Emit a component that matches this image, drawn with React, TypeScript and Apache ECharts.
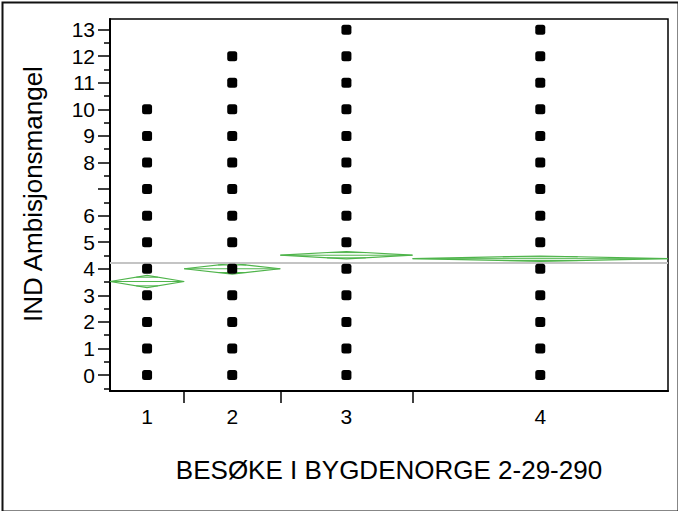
import React, { useEffect, useRef } from "react";
import * as echarts from "echarts";

// Group labels and relative group sizes (widths on the x axis)
const groupLabels = ["1", "2", "3", "4"];
const groupSizes = [74, 96, 132, 255];
// Observed response values per group (points drawn)
const groupValues: number[][] = [
  [0, 1, 2, 3, 4, 5, 6, 7, 8, 9, 10],
  [0, 1, 2, 3, 4, 5, 6, 7, 8, 9, 10, 11, 12],
  [0, 1, 2, 3, 4, 5, 6, 7, 8, 9, 10, 11, 12, 13],
  [0, 1, 2, 3, 4, 5, 6, 7, 8, 9, 10, 11, 12, 13],
];
// Group means and 95% CI half-widths (means diamonds)
const groupMeans = [3.52, 4.0, 4.51, 4.38];
const groupCIHalf = [0.23, 0.2, 0.14, 0.1];
const grandMean = 4.23;
// Y tick labels (7 is not labelled in the reference)
const yMajorTicks = [0, 1, 2, 3, 4, 5, 6, 7, 8, 9, 10, 11, 12, 13];
const yLabelTicks = [0, 1, 2, 3, 4, 5, 6, 8, 9, 10, 11, 12, 13];
const yMinorTicks = [-0.5, 0.5, 1.5, 2.5, 3.5, 4.5, 5.5, 6.5, 7.5, 8.5, 9.5, 10.5, 11.5, 12.5];

const yTitle = "IND Ambisjonsmangel";
const xTitle = "BESØKE I BYGDENORGE 2-29-290";

const FONT = "'Liberation Sans', Arial, sans-serif";
const GREEN = "#4fb44b";

export default function App() {
  const ref = useRef<HTMLDivElement>(null);

  useEffect(() => {
    if (!ref.current) return;
    const chart = echarts.init(ref.current, null, { renderer: "svg" });

    const starts: number[] = [];
    const centers: number[] = [];
    let acc = 0;
    groupSizes.forEach((s) => {
      starts.push(acc);
      centers.push(acc + s / 2);
      acc += s;
    });
    const total = acc;
    const boundaries = starts.slice(1);

    const points: number[][] = [];
    groupValues.forEach((vals, i) => {
      vals.forEach((v) => points.push([centers[i], v]));
    });

    const diamonds = groupMeans.map((m, i) => [
      starts[i],
      starts[i] + groupSizes[i],
      m,
      groupCIHalf[i],
    ]);

    const option: any = {
      animation: false,
      backgroundColor: "#ffffff",
      grid: {
        left: 110,
        top: 19,
        right: 10,
        bottom: 120,
        show: true,
        borderColor: "#000",
        borderWidth: 1.5,
        backgroundColor: "transparent",
      },
      xAxis: {
        type: "value",
        min: 0,
        max: total,
        splitLine: { show: false },
        axisLine: { show: true, onZero: false, lineStyle: { color: "#000", width: 2 } },
        axisTick: {
          show: true,
          customValues: boundaries,
          length: 12,
          inside: false,
          lineStyle: { color: "#000", width: 1.5 },
        },
        axisLabel: {
          show: true,
          customValues: centers,
          margin: 15,
          color: "#000",
          fontSize: 21,
          fontFamily: FONT,
          formatter: (v: number) => {
            const idx = centers.findIndex((c) => Math.abs(c - v) < 1e-6);
            return idx >= 0 ? groupLabels[idx] : "";
          },
        },
      },
      yAxis: [
        {
          type: "value",
          min: -0.6,
          max: 13.4,
          splitLine: { show: false },
          axisLine: { show: true, lineStyle: { color: "#000", width: 2 } },
          axisTick: {
            show: true,
            customValues: yMajorTicks,
            length: 12,
            lineStyle: { color: "#000", width: 1.5 },
          },
          axisLabel: {
            show: true,
            customValues: yLabelTicks,
            margin: 15,
            color: "#000",
            fontSize: 21,
            fontFamily: FONT,
          },
        },
        {
          type: "value",
          min: -0.6,
          max: 13.4,
          position: "left",
          splitLine: { show: false },
          axisLine: { show: false },
          axisTick: {
            show: true,
            customValues: yMinorTicks,
            length: 6,
            lineStyle: { color: "#000", width: 1.5 },
          },
          axisLabel: { show: false },
        },
      ],
      series: [
        {
          type: "scatter",
          yAxisIndex: 0,
          data: points,
          symbol: "roundRect",
          symbolSize: 10,
          itemStyle: { color: "#000", opacity: 1 },
          z: 5,
          markLine: {
            silent: true,
            symbol: "none",
            label: { show: false },
            lineStyle: { color: "#c4c4c4", width: 1.8, type: "solid" },
            data: [{ yAxis: grandMean }],
          },
        },
        {
          type: "custom",
          yAxisIndex: 0,
          data: diamonds,
          z: 4,
          renderItem: (_params: any, api: any) => {
            const x0 = api.value(0);
            const x1 = api.value(1);
            const m = api.value(2);
            const h = api.value(3);
            const xm = (x0 + x1) / 2;
            const pL = api.coord([x0, m]);
            const pR = api.coord([x1, m]);
            const pT = api.coord([xm, m + h]);
            const pB = api.coord([xm, m - h]);
            const dy = h / Math.SQRT2;
            const frac = 1 - 1 / Math.SQRT2;
            const hw = ((x1 - x0) / 2) * frac;
            const oU0 = api.coord([xm - hw, m + dy]);
            const oU1 = api.coord([xm + hw, m + dy]);
            const oD0 = api.coord([xm - hw, m - dy]);
            const oD1 = api.coord([xm + hw, m - dy]);
            const style = { stroke: GREEN, lineWidth: 1, fill: null };
            return {
              type: "group",
              children: [
                {
                  type: "polygon",
                  shape: { points: [pL, pT, pR, pB] },
                  style: { stroke: GREEN, lineWidth: 1.2, fill: "none" },
                },
                { type: "line", shape: { x1: pL[0], y1: pL[1], x2: pR[0], y2: pR[1] }, style },
                { type: "line", shape: { x1: oU0[0], y1: oU0[1], x2: oU1[0], y2: oU1[1] }, style },
                { type: "line", shape: { x1: oD0[0], y1: oD0[1], x2: oD1[0], y2: oD1[1] }, style },
              ],
            };
          },
        },
      ],
      graphic: [
        {
          type: "rect",
          left: 0,
          top: 0,
          shape: { x: 1, y: 1, width: 676, height: 509 },
          style: { fill: "none", stroke: "#111", lineWidth: 2 },
          silent: true,
        },
        {
          type: "text",
          x: 33,
          y: 194,
          rotation: Math.PI / 2,
          style: {
            text: yTitle,
            fontSize: 26,
            fontFamily: FONT,
            fill: "#000",
            align: "center",
            verticalAlign: "middle",
          },
        },
        {
          type: "text",
          x: 389,
          y: 470,
          style: {
            text: xTitle,
            fontSize: 26,
            fontFamily: FONT,
            fill: "#000",
            align: "center",
            verticalAlign: "middle",
          },
        },
      ],
    };

    chart.setOption(option);
    return () => chart.dispose();
  }, []);

  return (
    <div
      ref={ref}
      style={{ position: "absolute", left: 0, top: 0, width: 678, height: 511, background: "#fff" }}
    />
  );
}
